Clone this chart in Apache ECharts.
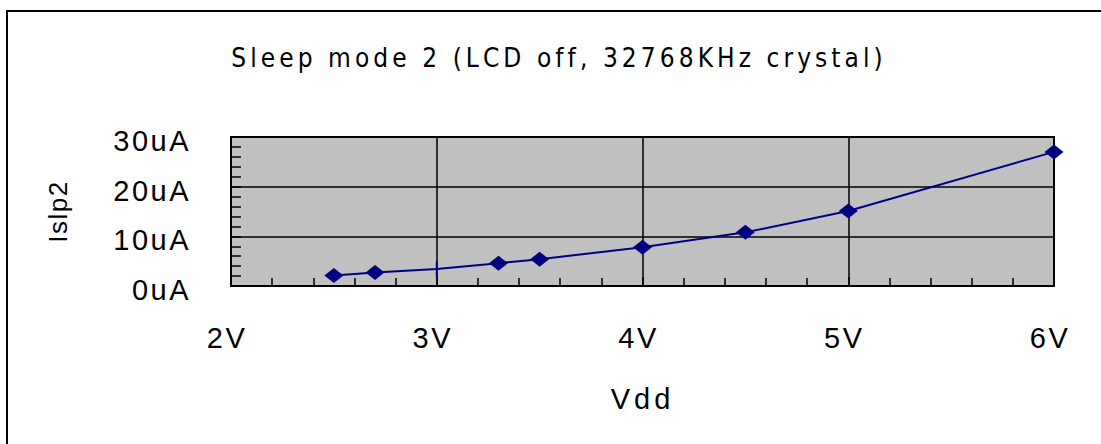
<!DOCTYPE html>
<html>
<head>
<meta charset="utf-8">
<script src="https://cdn.jsdelivr.net/npm/echarts@6/dist/echarts.min.js"></script>
<style>
html,body{margin:0;padding:0;background:#fff;}
#chart{width:1101px;height:444px;}
</style>
</head>
<body>
<div id="chart"></div>
<script>
const titleText = 'Sleep mode 2 (LCD off, 32768KHz crystal)';
const xName = 'Vdd';
const yName = 'Islp2';
const vdd = [2.5, 2.7, 3.0, 3.3, 3.5, 4.0, 4.5, 5.0, 6.0];
const islp2 = [2.1, 2.7, 3.4, 4.6, 5.4, 7.8, 10.8, 15.1, 27.0];
const xUnit = 'V';
const yUnit = 'uA';

const FONT = "'Liberation Sans', Arial, sans-serif";
const TITLE_FONT = "'Liberation Sans Narrow', 'Arial Narrow', 'DejaVu Sans Condensed', 'Liberation Sans', sans-serif";
const TITLE_SIZE = 26;
const chart = echarts.init(document.getElementById('chart'), null, {renderer: 'svg'});

const seriesData = vdd.map((x, i) => {
  const item = {value: [x, islp2[i]]};
  if (x === 3.0) { item.symbol = 'rect'; item.symbolSize = [2, 15]; }
  return item;
});

chart.setOption({
  animation: false,
  backgroundColor: '#ffffff',
  title: {
    text: titleText,
    left: 554,
    textAlign: 'center',
    top: 40,
    textStyle: {fontFamily: TITLE_FONT, fontSize: TITLE_SIZE, fontWeight: 'normal', color: '#000'}
  },
  graphic: [{
    type: 'rect',
    shape: {x: 7, y: 11, width: 1200, height: 600},
    style: {fill: 'none', stroke: '#000', lineWidth: 2},
    silent: true
  }],
  grid: {
    left: 231, top: 137, right: 47, bottom: 158,
    show: true, backgroundColor: '#C0C0C0', borderColor: '#000', borderWidth: 2
  },
  xAxis: {
    type: 'value', min: 2, max: 6, interval: 1,
    name: xName, nameLocation: 'middle', nameGap: 98,
    nameTextStyle: {fontFamily: FONT, fontSize: 29, color: '#000'},
    axisLine: {show: true, lineStyle: {color: '#000', width: 2}},
    axisTick: {show: true, inside: true, length: 9, lineStyle: {color: '#000', width: 1.5}},
    minorTick: {show: true, splitNumber: 5, length: 8, lineStyle: {color: '#000', width: 1.5}},
    splitLine: {show: true, lineStyle: {color: '#000', width: 1.5}},
    axisLabel: {
      formatter: v => v + xUnit, margin: 37, padding: [0, 8, 0, 0],
      fontFamily: FONT, fontSize: 29, color: '#000'
    }
  },
  yAxis: {
    type: 'value', min: 0, max: 30, interval: 10,
    name: yName, nameLocation: 'middle', nameGap: 160, nameRotate: 90,
    nameTextStyle: {fontFamily: FONT, fontSize: 26, color: '#000'},
    axisLine: {show: true, lineStyle: {color: '#000', width: 2}},
    axisTick: {show: true, inside: true, length: 10, lineStyle: {color: '#000', width: 1.5}},
    minorTick: {show: true, splitNumber: 5, length: 10, lineStyle: {color: '#000', width: 1.5}},
    splitLine: {show: true, lineStyle: {color: '#000', width: 1.5}},
    axisLabel: {
      formatter: v => '{a|' + v + yUnit + '}', margin: 40,
      fontFamily: FONT, fontSize: 29, color: '#000',
      rich: {a: {fontFamily: FONT, fontSize: 29, color: '#000', padding: [8, 0, 0, 0]}}
    }
  },
  series: [{
    type: 'line',
    data: seriesData,
    symbol: 'diamond',
    symbolSize: [19, 15],
    showSymbol: true,
    lineStyle: {color: '#000080', width: 2},
    itemStyle: {color: '#000080'},
    z: 5
  }]
});

const measureCtx = document.createElement('canvas').getContext('2d');
measureCtx.font = TITLE_SIZE + 'px ' + TITLE_FONT;
const titleW = measureCtx.measureText(titleText).width;
const titleSpacing = Math.max(0, (651 - titleW) / (titleText.length - 1));

function applySpacing() {
  const texts = document.querySelectorAll('#chart svg text');
  texts.forEach(t => {
    const s = t.textContent || '';
    let sp = 2.5;
    if (s === titleText) sp = titleSpacing;
    else if (s === xName) sp = 4;
    else if (s === yName) sp = 1.5;
    t.setAttribute('letter-spacing', sp.toFixed(2) + 'px');
  });
}
applySpacing();
chart.on('finished', applySpacing);
setTimeout(applySpacing, 50);
setTimeout(applySpacing, 300);
</script>
</body>
</html>
